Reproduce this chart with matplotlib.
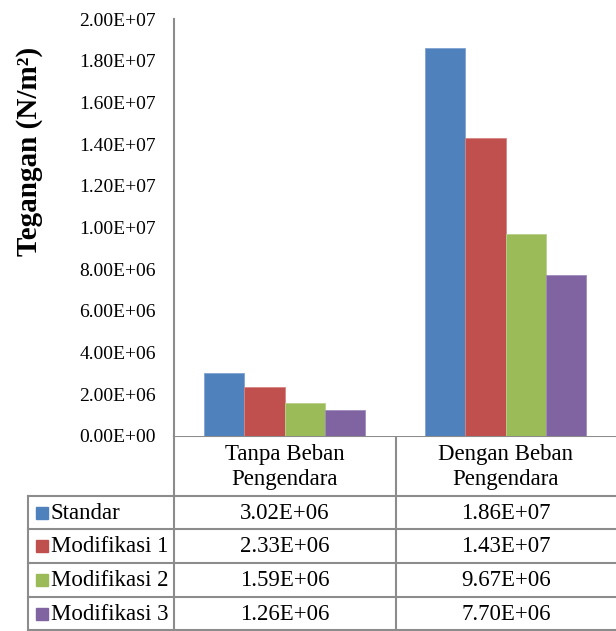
import numpy as np
import matplotlib
matplotlib.use("Agg")
import matplotlib.pyplot as plt
from matplotlib.patches import Rectangle

plt.rcParams['font.family'] = ['Liberation Serif', 'DejaVu Serif']

categories = ["Tanpa Beban\nPengendara", "Dengan Beban\nPengendara"]
series = ["Standar", "Modifikasi 1", "Modifikasi 2", "Modifikasi 3"]
standar = [3.02e6, 1.86e7]
modifikasi_1 = [2.33e6, 1.43e7]
modifikasi_2 = [1.59e6, 9.67e6]
modifikasi_3 = [1.26e6, 7.70e6]
yticks = np.arange(0, 2.01e7, 2e6)

values = [standar, modifikasi_1, modifikasi_2, modifikasi_3]
colors = ["#4F81BD", "#C0504D", "#9BBB59", "#8064A2"]
edges = ["#7FA3D1", "#D68583", "#B9D08A", "#A08BBE"]
grid_col = "#8c8c8c"

W, H = 616, 631
fig = plt.figure(figsize=(W / 100, H / 100), dpi=100)

# plot area in pixel units
x0, x1 = 174, 616
y_top, y_zero = 19, 436
ax = fig.add_axes([x0 / W, 1 - y_zero / H, (x1 - x0) / W, (y_zero - y_top) / H])

bw = 0.181
xs = np.arange(len(categories))
for i, (vals, c, ec) in enumerate(zip(values, colors, edges)):
    ax.bar(xs + (i - 1.5) * bw, vals, bw, color=c, edgecolor=ec, linewidth=0.6)

ax.set_xlim(-0.5, 1.5)
ax.set_ylim(0, 2e7)
ax.set_yticks(yticks)
ax.set_yticklabels(["%.2E" % v for v in yticks], fontsize=14)
ax.set_xticks([])
ax.tick_params(axis='y', length=0, pad=13)
for s in ["top", "right", "bottom"]:
    ax.spines[s].set_visible(False)
ax.spines["left"].set_color(grid_col)
ax.spines["left"].set_linewidth(1.5)

fig.text(30 / W, 1 - 151 / H, "Tegangan (N/m²)", rotation=90, fontsize=21,
         fontweight='bold', ha='center', va='center')

# data table underneath the plot, drawn in pixel coordinates
tab = fig.add_axes([0, 0, 1, 1], zorder=-1)
tab.set_xlim(0, W)
tab.set_ylim(H, 0)
tab.axis('off')

col_edges = [28, 174, 396, 616]
head_top, head_bot = 436, 496
row_edges = [496, 529, 563, 597, 630]
lw = 1.5

tab.plot([col_edges[1], W], [head_top, head_top], color=grid_col, lw=lw)
for y in row_edges:
    tab.plot([col_edges[0], W], [y, y], color=grid_col, lw=lw)
tab.plot([col_edges[0], col_edges[0]], [row_edges[0], row_edges[-1]], color=grid_col, lw=lw)
for x in col_edges[1:3]:
    tab.plot([x, x], [head_top, row_edges[-1]], color=grid_col, lw=lw)

col_centers = [(col_edges[j] + col_edges[j + 1]) / 2 for j in range(1, 3)]
for cx, cat in zip(col_centers, categories):
    tab.text(cx, (head_top + head_bot) / 2 + 1, cat, ha='center', va='center',
             fontsize=16.5, linespacing=1.25)

for r, (name, vals, c) in enumerate(zip(series, values, colors)):
    cy = (row_edges[r] + row_edges[r + 1]) / 2 + 1
    tab.add_patch(Rectangle((36, cy - 7), 12, 12, color=c))
    tab.text(51, cy, name, ha='left', va='center', fontsize=16.5)
    for cx, v in zip(col_centers, vals):
        tab.text(cx, cy, "%.2E" % v, ha='center', va='center', fontsize=16.5)

fig.savefig("out.png", dpi=100)
